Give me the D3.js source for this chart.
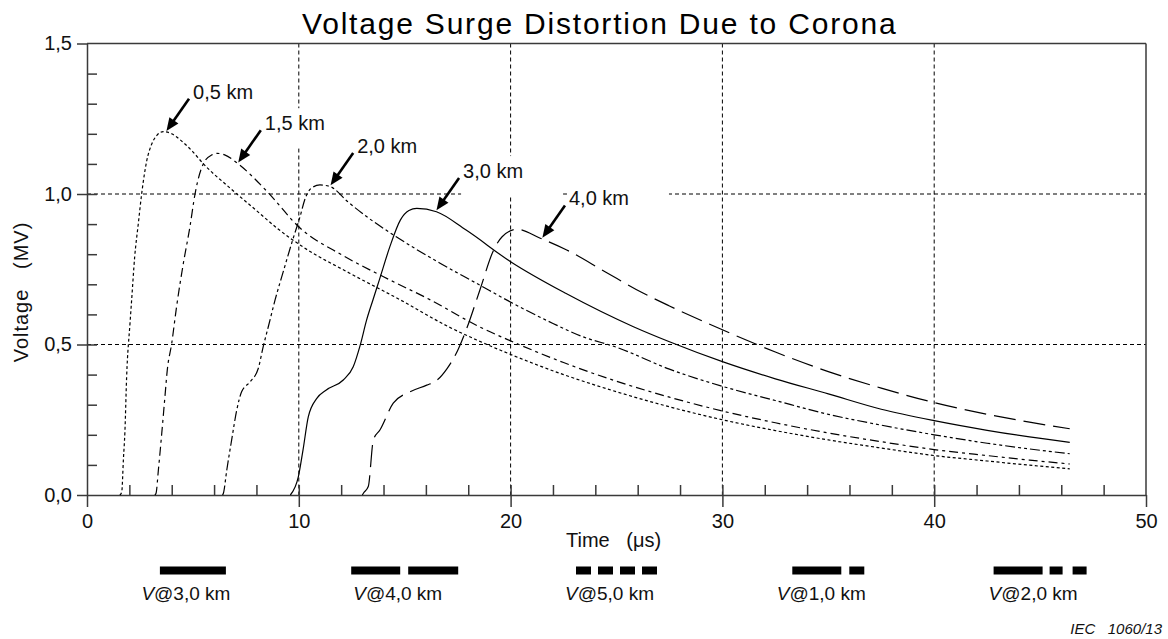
<!DOCTYPE html>
<html>
<head>
<meta charset="utf-8">
<script src="https://cdn.jsdelivr.net/npm/d3@7"></script>
<style>
  html, body { margin: 0; padding: 0; background: #fff; }
  svg { display: block; font-family: "Liberation Sans", Arial, sans-serif; }
</style>
</head>
<body>
<svg id="chart" width="1168" height="639"></svg>
<script>
// ---- Data: surge voltage (MV) against time (µs) at several distances ----
const seriesNames = ["0,5 km", "1,5 km", "2,0 km", "3,0 km", "4,0 km"];

const t05 = [1.55, 1.64, 1.72, 1.79, 1.87, 2.03, 2.11, 2.25, 2.42, 2.58, 2.82, 3.05, 3.3, 3.6, 4.0, 4.4, 5.0, 5.5, 6.75, 8.0, 9.0, 10.2, 12.4, 14.8, 17.1, 18.4, 20, 22.5, 25, 27.5, 30, 32.5, 35, 37.5, 40, 42.5, 44.5, 46.4];
const v05 = [0, 0.01, 0.12, 0.21, 0.39, 0.57, 0.65, 0.79, 0.90, 1.00, 1.11, 1.165, 1.195, 1.207, 1.20, 1.18, 1.14, 1.10, 1.02, 0.945, 0.885, 0.824, 0.737, 0.648, 0.558, 0.515, 0.467, 0.40, 0.343, 0.293, 0.250, 0.214, 0.183, 0.156, 0.131, 0.113, 0.099, 0.087];

const t15 = [3.2, 3.26, 3.37, 3.53, 3.68, 3.79, 4.0, 4.23, 4.55, 4.86, 5.1, 5.49, 5.89, 6.15, 6.5, 7.14, 8.48, 10.06, 12.1, 14.0, 16.3, 18.55, 20, 22.5, 25, 27.5, 30, 32.5, 35, 37.5, 40, 42.5, 44.5, 46.4];
const v15 = [0, 0.006, 0.083, 0.205, 0.327, 0.415, 0.504, 0.626, 0.77, 0.891, 1.0, 1.10, 1.13, 1.135, 1.13, 1.10, 1.01, 0.887, 0.795, 0.725, 0.645, 0.558, 0.512, 0.44, 0.378, 0.325, 0.279, 0.240, 0.206, 0.177, 0.151, 0.131, 0.116, 0.103];

const t20 = [6.4, 6.44, 6.6, 6.83, 7.07, 7.3, 7.7, 8.09, 8.32, 8.56, 8.88, 9.3, 9.7, 10.06, 10.3, 10.6, 11.0, 11.5, 12.3, 13.2, 14.6, 16.67, 18.4, 20.1, 22.0, 23.4, 25, 27.5, 30, 32.5, 35, 37.5, 40, 42.5, 44.5, 46.4];
const v20 = [0, 0.006, 0.083, 0.183, 0.282, 0.343, 0.376, 0.421, 0.493, 0.559, 0.648, 0.75, 0.845, 0.925, 0.985, 1.02, 1.03, 1.024, 0.975, 0.925, 0.858, 0.770, 0.703, 0.637, 0.570, 0.526, 0.491, 0.418, 0.361, 0.314, 0.268, 0.232, 0.200, 0.172, 0.153, 0.137];

const t30 = [9.6, 9.98, 10.2, 10.45, 10.85, 11.3, 12.1, 12.57, 12.9, 13.2, 13.5, 13.8, 14.3, 14.8, 15.2, 15.57, 16.5, 17.9, 20, 22.6, 25.8, 27.5, 30, 32.5, 35, 37.5, 40, 42.5, 44.5, 46.4];
const v30 = [0, 0.061, 0.15, 0.26, 0.321, 0.349, 0.382, 0.426, 0.498, 0.581, 0.648, 0.714, 0.825, 0.914, 0.945, 0.952, 0.941, 0.880, 0.775, 0.670, 0.559, 0.509, 0.443, 0.386, 0.336, 0.285, 0.247, 0.215, 0.193, 0.175];

const t40 = [13.0, 13.05, 13.28, 13.52, 13.83, 14.46, 15.25, 16.04, 16.5, 17.0, 17.5, 17.9, 18.55, 19.2, 19.6, 20.3, 21.4, 22.65, 24.5, 26.25, 27.5, 30, 32.5, 35, 37.5, 40, 42.5, 44.5, 46.4];
const v40 = [0, 0.006, 0.028, 0.183, 0.216, 0.305, 0.343, 0.365, 0.38, 0.42, 0.48, 0.548, 0.681, 0.814, 0.858, 0.883, 0.853, 0.814, 0.74, 0.671, 0.628, 0.549, 0.475, 0.41, 0.355, 0.307, 0.268, 0.242, 0.22];

// Time (µs) at which each distance label points onto its curve
const arrowTimes = [3.75, 7.14, 11.5, 16.5, 21.5];

const xTicks = [0, 10, 20, 30, 40, 50];
const yTicks = [0, 0.5, 1.0, 1.5];

const legendNames = ["3,0 km", "4,0 km", "5,0 km", "1,0 km", "2,0 km"];

// ---- Styles ----
const curveDash = ["3,2.5", "9,4,3,4", "10,3,3,3,3,3", null, "22,8"];
const legendDash = [null, "49,8,50,300", "15,7,15,7,15,7,15,300", "49,8,15,300", "49,7,13,10,14,300"];
const legendLen = [66, 107, 81, 72, 93];
const axisColor = "#3a3a3a";
const fmt = d => d3.format(".1f")(d).replace(".", ",");

const series = [[t05, v05], [t15, v15], [t20, v20], [t30, v30], [t40, v40]];

// ---- Scales ----
const svg = d3.select("#chart");
const x = d3.scaleLinear().domain([0, 50]).range([87, 1146]);
const y = d3.scaleLinear().domain([0, 1.5]).range([495, 43.5]);

// ---- Title ----
svg.append("text")
  .attr("x", 302).attr("y", 34)
  .attr("font-size", 30).attr("letter-spacing", "1.8px")
  .attr("fill", "#000")
  .text("Voltage Surge Distortion Due to Corona");

// ---- Grid ----
const grid = svg.append("g")
  .attr("stroke", "#000").attr("stroke-width", 1).attr("stroke-dasharray", "4,3");
grid.selectAll("line.gv").data(xTicks.slice(1, -1)).join("line")
  .attr("class", "gv")
  .attr("x1", d => x(d)).attr("x2", d => x(d))
  .attr("y1", y(1.5)).attr("y2", y(0));
grid.selectAll("line.gh").data([0.5, 1.0]).join("line")
  .attr("class", "gh")
  .attr("x1", x(0)).attr("x2", x(50))
  .attr("y1", d => y(d)).attr("y2", d => y(d));

// ---- Label backing boxes (drawn before curves) ----
function valueAt(ts, vs, t) {
  const i = d3.bisectRight(ts, t);
  if (i <= 0) return vs[0];
  if (i >= ts.length) return vs[vs.length - 1];
  const f = (t - ts[i - 1]) / (ts[i] - ts[i - 1]);
  return vs[i - 1] + f * (vs[i] - vs[i - 1]);
}
const annos = series.map((s, i) => {
  const t = arrowTimes[i];
  const tip = [x(t), y(valueAt(s[0], s[1], t)) - 1.5];
  const tail = [tip[0] + 22.6, tip[1] - 32.2];
  return { name: seriesNames[i], tip, tail, tx: tail[0] + 4, ty: tail[1] };
});
svg.append("g").selectAll("rect").data(annos).join("rect")
  .attr("x", d => d.tx - 2).attr("y", d => d.ty - 22)
  .attr("width", 102).attr("height", 40)
  .attr("fill", "#fff");

// ---- Frame ----
svg.append("line")
  .attr("x1", x(0)).attr("x2", x(50)).attr("y1", y(1.5)).attr("y2", y(1.5))
  .attr("stroke", axisColor).attr("stroke-width", 1.5);
svg.append("line")
  .attr("x1", x(50)).attr("x2", x(50)).attr("y1", y(1.5)).attr("y2", y(0))
  .attr("stroke", axisColor).attr("stroke-width", 1.5);

// ---- Axes ----
function styleAxis(g) {
  g.selectAll("path.domain").attr("stroke", axisColor).attr("stroke-width", 1.5);
  g.selectAll(".tick line").attr("stroke", axisColor).attr("stroke-width", 1.5);
  g.selectAll(".tick text").attr("fill", "#111").attr("font-size", 20)
    .attr("font-family", "'Liberation Sans', Arial, sans-serif");
}
svg.append("g").attr("transform", `translate(0,${y(0)})`)
  .call(d3.axisBottom(x).tickValues(xTicks).tickSize(12).tickSizeOuter(0).tickPadding(7).tickFormat(d3.format("d")))
  .call(styleAxis);
svg.append("g").attr("transform", `translate(0,${y(0)})`)
  .call(d3.axisBottom(x).tickValues(d3.range(2, 50, 2)).tickSize(-10).tickSizeOuter(0).tickFormat(""))
  .call(g => g.select("path.domain").remove())
  .call(styleAxis);
svg.append("g").attr("transform", `translate(${x(0)},0)`)
  .call(d3.axisLeft(y).tickValues(yTicks).tickSize(10).tickSizeOuter(0).tickPadding(5).tickFormat(fmt))
  .call(styleAxis);
svg.append("g").attr("transform", `translate(${x(0)},0)`)
  .call(d3.axisLeft(y).tickValues(d3.range(1, 15).map(i => i / 10)).tickSize(-10).tickSizeOuter(0).tickFormat(""))
  .call(g => g.select("path.domain").remove())
  .call(styleAxis);

// ---- Axis titles ----
svg.append("text")
  .attr("x", 566).attr("y", 547)
  .attr("font-size", 20).attr("fill", "#111")
  .attr("xml:space", "preserve")
  .style("white-space", "pre")
  .text("Time   (\u03bcs)");
svg.append("text")
  .attr("transform", "translate(28,292) rotate(-90)")
  .attr("text-anchor", "middle")
  .attr("font-size", 20).attr("letter-spacing", "1px").attr("fill", "#111")
  .style("white-space", "pre")
  .text("Voltage   (MV)");

// ---- Curves ----
const line = d3.line().x(d => x(d[0])).y(d => y(d[1])).curve(d3.curveMonotoneX);
svg.append("g").selectAll("path").data(series).join("path")
  .attr("d", s => line(d3.zip(s[0], s[1])))
  .attr("fill", "none").attr("stroke", "#000").attr("stroke-width", 1.2)
  .attr("stroke-dasharray", (s, i) => curveDash[i]);

// ---- Distance labels with arrows ----
const ag = svg.append("g");
ag.selectAll("text").data(annos).join("text")
  .attr("x", d => d.tx).attr("y", d => d.ty)
  .attr("font-size", 20).attr("fill", "#111")
  .text(d => d.name);
annos.forEach(d => {
  const dx = d.tip[0] - d.tail[0], dy = d.tip[1] - d.tail[1];
  const len = Math.hypot(dx, dy), ux = dx / len, uy = dy / len;
  const headLen = 13, headW = 5.5;
  const bx = d.tip[0] - ux * headLen, by = d.tip[1] - uy * headLen;
  ag.append("line")
    .attr("x1", d.tail[0]).attr("y1", d.tail[1])
    .attr("x2", bx + ux * 2).attr("y2", by + uy * 2)
    .attr("stroke", "#000").attr("stroke-width", 2.6);
  ag.append("polygon")
    .attr("points", [
      [d.tip[0], d.tip[1]],
      [bx - uy * headW, by + ux * headW],
      [bx + uy * headW, by - ux * headW]
    ].map(p => p.join(",")).join(" "))
    .attr("fill", "#000");
});

// ---- Legend ----
const legendCentres = d3.range(5, 50, 10);
const lg = svg.append("g");
legendNames.forEach((name, i) => {
  const cx = x(legendCentres[i]);
  lg.append("line")
    .attr("x1", cx - legendLen[i] / 2).attr("x2", cx + legendLen[i] / 2)
    .attr("y1", 570.5).attr("y2", 570.5)
    .attr("stroke", "#000").attr("stroke-width", 8)
    .attr("stroke-dasharray", legendDash[i]);
  const t = lg.append("text")
    .attr("x", cx - 7).attr("y", 600)
    .attr("text-anchor", "middle").attr("font-size", 19).attr("fill", "#111");
  t.append("tspan").attr("font-style", "italic").text("V");
  t.append("tspan").text("@" + name);
});

// ---- Figure reference ----
svg.append("text")
  .attr("x", 1162).attr("y", 634)
  .attr("text-anchor", "end").attr("font-size", 15).attr("font-style", "italic").attr("fill", "#111")
  .style("white-space", "pre")
  .text("IEC   1060/13");
</script>
</body>
</html>
